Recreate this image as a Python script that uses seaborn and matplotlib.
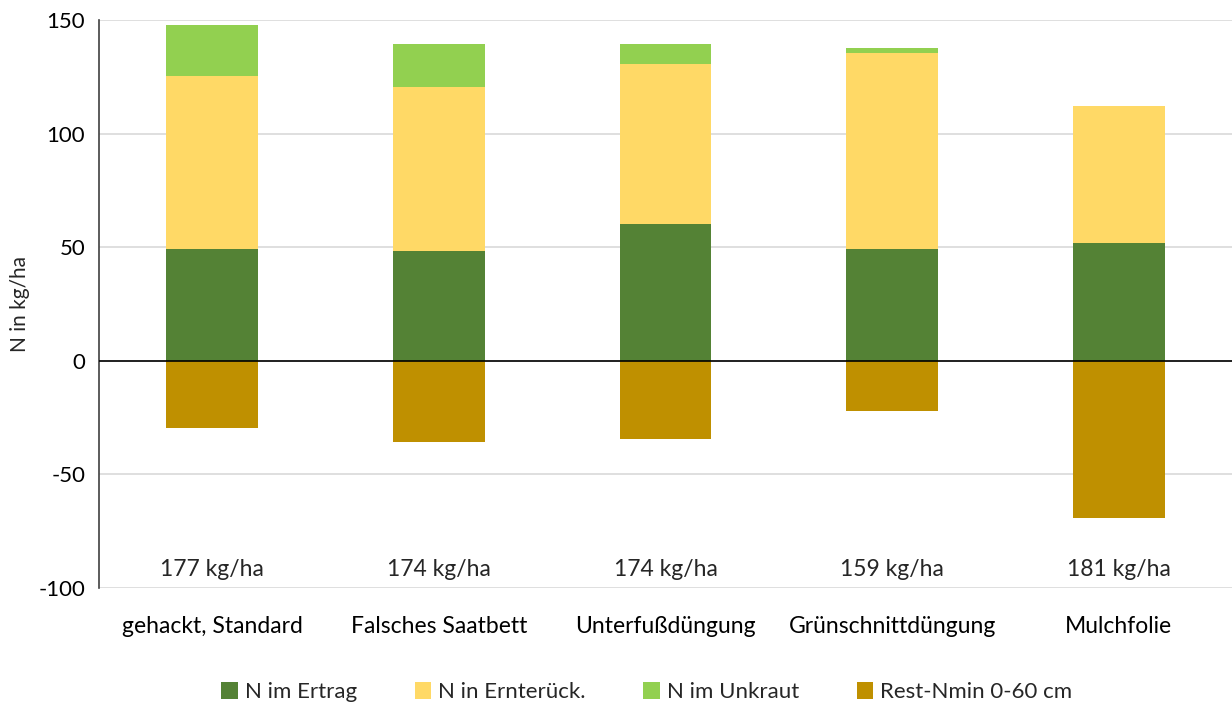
import matplotlib
matplotlib.use("Agg")
import matplotlib.pyplot as plt
import seaborn as sns
import pandas as pd

# data
varianten = ["gehackt, Standard", "Falsches Saatbett", "Unterfußdüngung",
             "Grünschnittdüngung", "Mulchfolie"]
n_ertrag = [49.3, 48.5, 60.4, 49.3, 52.0]
n_ernterueck = [76.0, 71.8, 70.4, 86.2, 60.3]
n_unkraut = [22.5, 19.0, 8.8, 2.0, 0.0]
rest_nmin = [-29.8, -35.6, -34.6, -22.2, -69.0]
duengung = ["177 kg/ha", "174 kg/ha", "174 kg/ha", "159 kg/ha", "181 kg/ha"]

colors = {"N im Ertrag": "#548235", "N in Ernterück.": "#FFD966",
          "N im Unkraut": "#92D050", "Rest-Nmin 0-60 cm": "#BF9000"}

df = pd.DataFrame({"Variante": varianten, "ertrag": n_ertrag,
                   "ernte": n_ernterueck, "unkraut": n_unkraut, "rest": rest_nmin})
df["bottom_ernte"] = df["ertrag"]
df["bottom_unkraut"] = df["ertrag"] + df["ernte"]

sns.set_theme(style="white")
plt.rcParams["font.family"] = ["Lato", "DejaVu Sans"]
plt.rcParams["axes.unicode_minus"] = False

fig, ax = plt.subplots(figsize=(12.32, 7.04), dpi=100)
fig.subplots_adjust(left=0.0804, right=1.0, top=0.9716, bottom=0.1648)

bw = 0.405
sns.barplot(data=df, x="Variante", y="ertrag", color=colors["N im Ertrag"],
            width=bw, ax=ax, label="N im Ertrag", saturation=1, linewidth=0)
sns.barplot(data=df, x="Variante", y="ernte", bottom=df["bottom_ernte"],
            color=colors["N in Ernterück."], width=bw, ax=ax,
            label="N in Ernterück.", saturation=1, linewidth=0)
sns.barplot(data=df, x="Variante", y="unkraut", bottom=df["bottom_unkraut"],
            color=colors["N im Unkraut"], width=bw, ax=ax,
            label="N im Unkraut", saturation=1, linewidth=0)
sns.barplot(data=df, x="Variante", y="rest", color=colors["Rest-Nmin 0-60 cm"],
            width=bw, ax=ax, label="Rest-Nmin 0-60 cm", saturation=1, linewidth=0)

handles, labels = ax.get_legend_handles_labels()
if ax.get_legend() is not None:
    ax.get_legend().remove()

ax.set_ylim(-100, 150)
ax.set_xlim(-0.5, 4.5)
ax.set_yticks([-100, -50, 0, 50, 100, 150])
ax.yaxis.grid(True, color="#D9D9D9", linewidth=1.2)
ax.set_axisbelow(True)
ax.axhline(0, color="black", linewidth=1.2, zorder=3)

for s in ["top", "right", "bottom"]:
    ax.spines[s].set_visible(False)
ax.spines["left"].set_color("#404040")
ax.spines["left"].set_linewidth(1.2)

ax.tick_params(axis="y", labelsize=16, length=0, pad=10, colors="black")
ax.tick_params(axis="x", labelsize=16.5, length=0, pad=20, colors="black")
ax.set_xlabel("")
ax.set_ylabel("N in kg/ha", fontsize=15)
ax.yaxis.set_label_coords(-0.061, 0.5)

for i, txt in enumerate(duengung):
    ax.text(i, -96.5, txt, ha="center", va="bottom", fontsize=16.5)

fig.legend(handles, labels, loc="lower center", ncol=4, frameon=False,
           fontsize=16, handlelength=0.75, handleheight=0.75, handletextpad=0.3,
           columnspacing=2.6, bbox_to_anchor=(0.525, -0.026))

fig.savefig("out.png", dpi=100)
